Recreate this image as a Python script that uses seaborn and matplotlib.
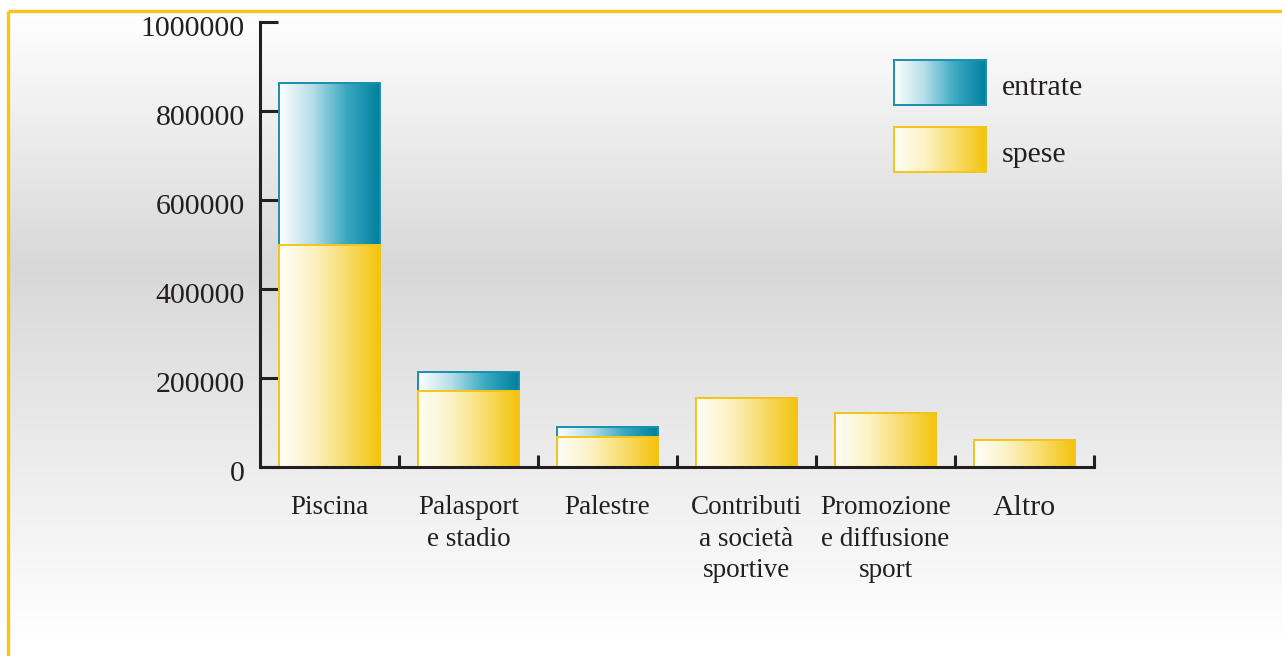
import numpy as np
import pandas as pd
import matplotlib
matplotlib.use("Agg")
import matplotlib.pyplot as plt
import matplotlib.transforms as mtransforms
import seaborn as sns
from matplotlib.colors import LinearSegmentedColormap

categories = ["Piscina", "Palasport\ne stadio", "Palestre", "Contributi\na società\nsportive",
              "Promozione\ne diffusione\nsport", "Altro"]
spese = [500000, 171000, 67500, 155000, 121000, 61000]
entrate = [363000, 43000, 22500, 0, 0, 0]
yticks = [0, 200000, 400000, 600000, 800000, 1000000]
series_labels = ["entrate", "spese"]

totals = [s + e for s, e in zip(spese, entrate)]
df = pd.DataFrame({"categoria": categories, "spese": spese, "totale": totals})

sns.set_theme(style="white")
plt.rcParams["font.family"] = ["Liberation Serif", "DejaVu Serif"]

W, H = 1282, 656
fig = plt.figure(figsize=(W / 100, H / 100), dpi=100)
fig.patch.set_facecolor("white")

# background gradient
bg = fig.add_axes([0, 0, 1, 1], zorder=-10)
rows = np.arange(H)
prof = np.interp(rows, [0, 12, 265, 640, 656], [255, 255, 216, 255, 255]) / 255.0
img = np.repeat(prof[:, None], 2, axis=1)
bg.imshow(np.dstack([img, img, img]), aspect="auto", extent=[0, W, H, 0], interpolation="bilinear")
bg.fill_between([0, W], [0, 0], [11, 11], color="white", zorder=2)
bg.fill_between([0, 8], [0, 0], [H, H], color="white", zorder=2)
bg.plot([8, W], [11, 11], color="#f5c518", lw=2.4, zorder=3, solid_capstyle="butt")
bg.plot([8, 8], [11, H], color="#f5c518", lw=2.4, zorder=3, solid_capstyle="butt")
bg.set_xlim(0, W)
bg.set_ylim(H, 0)
bg.axis("off")

ax = fig.add_axes([260 / W, (H - 467) / H, 834 / W, 445 / H])
ax.patch.set_visible(False)

yellow_cmap = LinearSegmentedColormap.from_list("y", ["#fffef8", "#fcf2c4", "#f8dc6c", "#f4c30c"])
blue_cmap = LinearSegmentedColormap.from_list("b", ["#ffffff", "#b4dde7", "#3aa9c2", "#00809e"])

n_before = len(ax.patches)
sns.barplot(data=df, x="categoria", y="totale", color="#1a8fae", width=0.725, ax=ax,
            saturation=1, zorder=2)
blue_patches = ax.patches[n_before:]
n_before = len(ax.patches)
sns.barplot(data=df, x="categoria", y="spese", color="#f5c518", width=0.725, ax=ax,
            saturation=1, zorder=3)
yellow_patches = ax.patches[n_before:]

grad = np.linspace(0, 1, 256)[None, :]

def fill_gradient(patches, cmap, edge, z):
    for p in patches:
        x0, y0 = p.get_x(), p.get_y()
        w, h = p.get_width(), p.get_height()
        if h <= 0:
            continue
        p.set_facecolor("none")
        p.set_edgecolor(edge)
        p.set_linewidth(1.4)
        p.set_zorder(z + 0.5)
        im = ax.imshow(grad, cmap=cmap, aspect="auto", extent=[x0, x0 + w, y0, y0 + h],
                       interpolation="bilinear", zorder=z)
        im.set_clip_path(p)

fill_gradient(blue_patches, blue_cmap, "#1a8fae", 2)
fill_gradient(yellow_patches, yellow_cmap, "#f5c518", 3)

ax.set_xlim(-0.5, 5.5)
ax.set_ylim(0, 1000000)
ax.set_aspect("auto")
ax.set_xlabel("")
ax.set_ylabel("")

axis_col = "#231f20"
for s in ["top", "right"]:
    ax.spines[s].set_visible(False)
for s in ["left", "bottom"]:
    ax.spines[s].set_color(axis_col)
    ax.spines[s].set_linewidth(2.2)
    ax.spines[s].set_zorder(5)

ax.set_yticks(yticks)
ax.set_yticklabels([str(v) for v in yticks], fontsize=21.5, color=axis_col)
ax.tick_params(axis="y", direction="in", length=13, width=2.2, color=axis_col, pad=11, left=True)
shift = mtransforms.ScaledTranslation(0, -4 / 100, fig.dpi_scale_trans)
for lab in ax.get_yticklabels():
    lab.set_transform(lab.get_transform() + shift)

ax.set_xticks(range(len(categories)))
ax.set_xticklabels(categories, fontsize=19.5, color=axis_col, linespacing=1.36)
ax.set_xticks(np.arange(0.5, 6, 1), minor=True)
ax.tick_params(axis="x", which="major", length=0, pad=20)
ax.tick_params(axis="x", which="minor", direction="in", length=9, width=2.2, color=axis_col, bottom=True)
ax.get_xticklabels()[-1].set_fontsize(21.5)

# legend
def legend_box(y_top, cmap, edge, label):
    lx = fig.add_axes([894 / W, (H - y_top - 45) / H, 92 / W, 45 / H], zorder=6)
    lx.imshow(grad, cmap=cmap, aspect="auto", interpolation="bilinear")
    lx.set_xticks([])
    lx.set_yticks([])
    for s in lx.spines.values():
        s.set_color(edge)
        s.set_linewidth(1.4)
    fig.text(1002 / W, (H - y_top - 28) / H, label, fontsize=21.5, color=axis_col, va="center", ha="left")

legend_box(60, blue_cmap, "#1a8fae", series_labels[0])
legend_box(127, yellow_cmap, "#f5c518", series_labels[1])

fig.savefig("out.png", dpi=100)
